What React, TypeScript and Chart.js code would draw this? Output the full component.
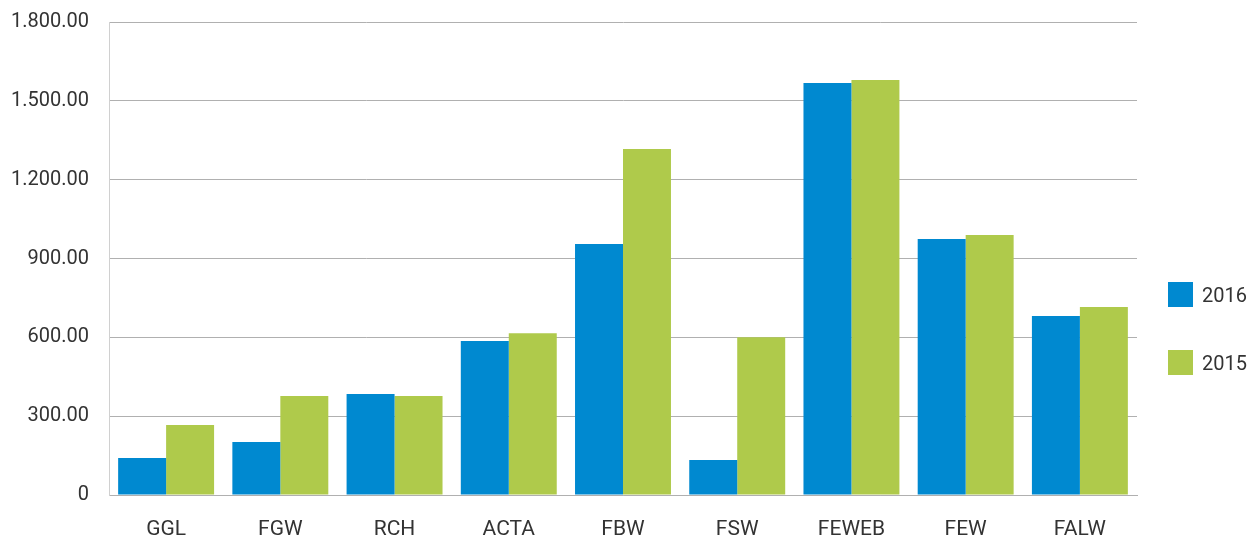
import React, { useEffect, useRef } from "react";
import { Chart, registerables } from "chart.js";

Chart.register(...registerables);

const categories = ["GGL", "FGW", "RCH", "ACTA", "FBW", "FSW", "FEWEB", "FEW", "FALW"];
const values2016 = [141, 202, 384, 586, 955, 133, 1568, 974, 681];
const values2015 = [266, 377, 377, 616, 1317, 600, 1579, 989, 715];
const yTickValues = [0, 300, 600, 900, 1200, 1500, 1800];
const yTickLabels = ["0", "300.00", "600.00", "900.00", "1.200.00", "1.500.00", "1.800.00"];
const seriesLabels = ["2016", "2015"];
const seriesColors = ["#0089d0", "#afca4b"];

export default function App() {
  const ref = useRef<HTMLCanvasElement | null>(null);

  useEffect(() => {
    document.body.style.margin = "0";
    const ctx = ref.current!.getContext("2d")!;
    const chart = new Chart(ctx, {
      type: "bar",
      data: {
        labels: categories,
        datasets: [
          { label: seriesLabels[0], data: values2016, backgroundColor: seriesColors[0] },
          { label: seriesLabels[1], data: values2015, backgroundColor: seriesColors[1] },
        ],
      },
      options: {
        animation: false,
        responsive: false,
        layout: { padding: { top: 22, right: 114, left: 0, bottom: 0 } },
        plugins: { legend: { display: false }, tooltip: { enabled: false } },
        datasets: { bar: { categoryPercentage: 0.84, barPercentage: 1 } },
        scales: {
          x: {
            grid: { display: false, drawTicks: false },
            border: { color: "#b0b0b0", width: 1 },
            ticks: { color: "#333", font: { family: "Roboto", size: 21 }, padding: 22, maxRotation: 0 },
            afterFit: (s: any) => { s.height = 44; s.paddingLeft = 0; s.paddingRight = 0; },
          },
          y: {
            min: 0,
            max: 1800,
            afterBuildTicks: (s: any) => { s.ticks = yTickValues.map((v) => ({ value: v })); },
            grid: { color: "#b0b0b0", drawTicks: false },
            border: { color: "#d0d0d0", width: 1 },
            ticks: {
              color: "#333",
              font: { family: "Roboto", size: 20 },
              padding: 20,
              callback: (v: any) => {
                const i = yTickValues.indexOf(Number(v));
                return i >= 0 ? yTickLabels[i] : "";
              },
            },
            afterFit: (s: any) => { s.width = 109; s.paddingTop = 0; s.paddingBottom = 0; },
          },
        },
      },
    });
    return () => chart.destroy();
  }, []);

  const legendItem = (i: number, top: number) => (
    <div key={i} style={{ position: "absolute", left: 1168, top, display: "flex", alignItems: "center", fontFamily: "Roboto", fontSize: 20, color: "#333" }}>
      <div style={{ width: 25, height: 25, background: seriesColors[i], marginRight: 9 }} />
      <span>{seriesLabels[i]}</span>
    </div>
  );

  return (
    <div style={{ position: "relative", width: 1251, height: 539 }}>
      <canvas ref={ref} width={1251} height={539} style={{ display: "block" }} />
      {legendItem(0, 282)}
      {legendItem(1, 350)}
    </div>
  );
}
